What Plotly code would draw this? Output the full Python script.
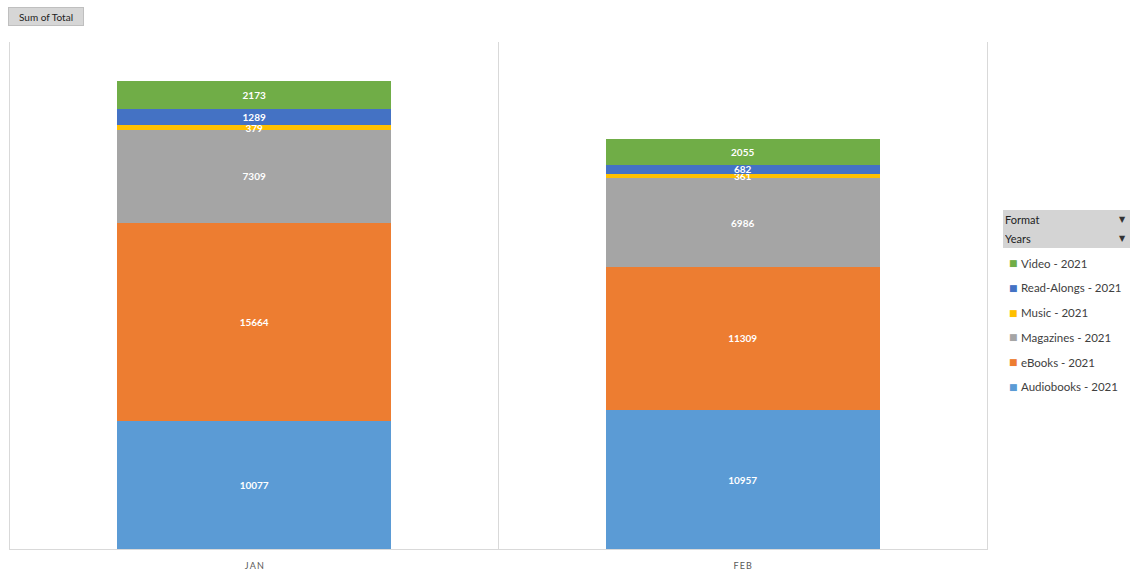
import plotly.graph_objects as go

months = ["JAN", "FEB"]
series_names = ["Audiobooks - 2021", "eBooks - 2021", "Magazines - 2021",
                "Music - 2021", "Read-Alongs - 2021", "Video - 2021"]
audiobooks = [10077, 10957]
ebooks = [15664, 11309]
magazines = [7309, 6986]
music = [379, 361]
read_alongs = [1289, 682]
video = [2173, 2055]
colors = ["#5B9BD5", "#ED7D31", "#A5A5A5", "#FFC000", "#4472C4", "#70AD47"]

values = [audiobooks, ebooks, magazines, music, read_alongs, video]

W, H = 1132, 576
L, R, T, B = 10, 145, 42, 27
pw, ph = W - L - R, H - T - B

def px(x):
    return (x - L) / pw

def py(y):
    return (H - B - y) / ph

fig = go.Figure()
for name, vals, col in zip(series_names, values, colors):
    fig.add_trace(go.Bar(
        x=months, y=vals, name=name, marker=dict(color=col, line=dict(width=0)),
        width=0.56, text=[str(v) for v in vals], textposition="inside",
        insidetextanchor="middle", textangle=0, constraintext="none",
        textfont=dict(family="Lato", size=10, color="white", weight="bold"),
        showlegend=False, hoverinfo="x+y+name"))

anns = []
# Sum of Total button
anns.append(dict(text="Sum of Total", xref="paper", yref="paper", x=px(8), y=py(7),
                 xanchor="left", yanchor="top", showarrow=False, width=72, height=15,
                 bgcolor="#D6D6D6", bordercolor="#BFBFBF", borderwidth=1,
                 font=dict(family="Lato", size=10, color="#222222")))
# Format / Years buttons
for i, lab in enumerate(["Format", "Years"]):
    top = 210 + i * 19
    anns.append(dict(text=lab, xref="paper", yref="paper", x=px(1003), y=py(top),
                     xanchor="left", yanchor="top", showarrow=False, width=123, height=15,
                     align="left", bgcolor="#D4D4D4", bordercolor="#D4D4D4", borderwidth=1,
                     font=dict(family="Lato", size=11, color="#222222")))
    anns.append(dict(text="▼", xref="paper", yref="paper", x=px(1122), y=py(top + 9),
                     xanchor="center", yanchor="middle", showarrow=False,
                     font=dict(family="DejaVu Sans", size=8, color="#333333")))
# Legend (reversed stack order)
for j, idx in enumerate(range(len(series_names) - 1, -1, -1)):
    yc = 263 + j * 24.8
    anns.append(dict(text="■", xref="paper", yref="paper", x=px(1013), y=py(yc),
                     xanchor="center", yanchor="middle", showarrow=False,
                     font=dict(family="DejaVu Sans", size=9, color=colors[idx])))
    anns.append(dict(text=series_names[idx], xref="paper", yref="paper", x=px(1019), y=py(yc),
                     xanchor="left", yanchor="middle", showarrow=False,
                     font=dict(family="Lato", size=11.5, color="#404040")))

spaced = ["\u2009".join(m) for m in months]

fig.update_layout(
    barmode="stack", width=W, height=H,
    margin=dict(l=L, r=R, t=T, b=B, autoexpand=False),
    paper_bgcolor="white", plot_bgcolor="white",
    annotations=anns,
    xaxis=dict(type="category", range=[-0.5, 1.5], tickson="boundaries", showgrid=True,
               gridcolor="#D9D9D9", gridwidth=1, ticks="", showline=True,
               linecolor="#D9D9D9", linewidth=1, mirror=False, automargin=False,
               tickvals=months, ticktext=spaced, ticklabelstandoff=8,
               tickfont=dict(family="Lato", size=9, color="#595959")),
    yaxis=dict(range=[0, 40000], visible=True, showgrid=False, zeroline=False,
               showticklabels=False, ticks="", showline=True, mirror=True,
               automargin=False, linecolor="#D9D9D9", linewidth=1),
)

fig.write_html("out.html")
